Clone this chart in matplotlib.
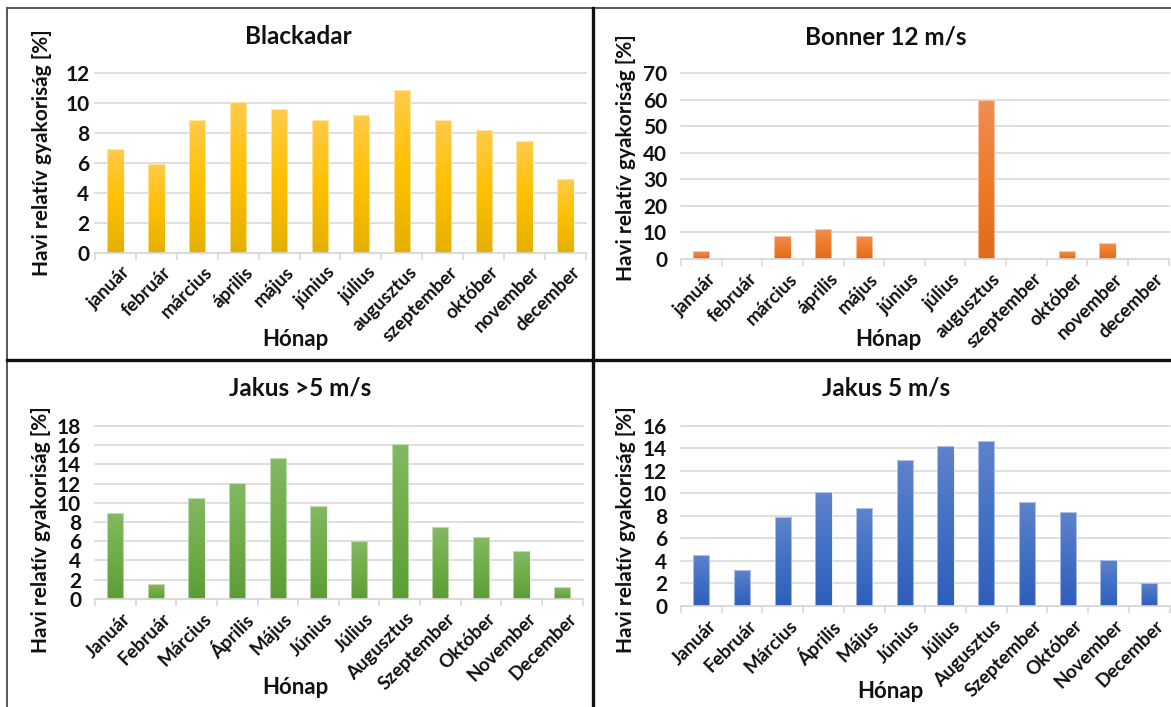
import numpy as np
import matplotlib
matplotlib.use("Agg")
import matplotlib.pyplot as plt
from matplotlib.colors import to_rgb
from matplotlib.transforms import ScaledTranslation
from matplotlib.lines import Line2D

plt.rcParams['font.family'] = ['Lato', 'DejaVu Sans']
plt.rcParams['font.weight'] = 'bold'

# ---- data -------------------------------------------------------------
months_lower = ["január", "február", "március", "április", "május", "június",
                "július", "augusztus", "szeptember", "október", "november", "december"]
months_cap = ["Január", "Február", "Március", "Április", "Május", "Június",
              "Július", "Augusztus", "Szeptember", "Október", "November", "December"]

blackadar = [6.9, 5.95, 8.9, 10.1, 9.6, 8.9, 9.2, 10.9, 8.9, 8.2, 7.45, 4.9]
bonner_12 = [3.0, 0, 8.5, 11.4, 8.5, 0, 0, 60.0, 0, 3.0, 5.9, 0]
jakus_gt5 = [8.9, 1.5, 10.5, 12.05, 14.7, 9.7, 6.0, 16.1, 7.5, 6.45, 5.0, 1.2]
jakus_5 = [4.55, 3.15, 7.9, 10.1, 8.7, 12.95, 14.25, 14.7, 9.25, 8.35, 4.05, 2.05]

titles = ["Blackadar", "Bonner 12 m/s", "Jakus >5 m/s", "Jakus 5 m/s"]
ylims = [(0, 12, 2), (0, 70, 10), (0, 18, 2), (0, 16, 2)]
ylabel = "Havi relatív gyakoriság [%]"
xlabel = "Hónap"

# gradient colours (top, middle, bottom) of each series
gradients = [
    ("#FFCB4A", "#FFC000", "#E3B000"),
    ("#EF8E55", "#EF7B2A", "#E06A1C"),
    ("#84B864", "#6FAD47", "#5C9C36"),
    ("#5F83CC", "#4170C4", "#2E5EBB"),
]

W, H = 1171, 707
fig = plt.figure(figsize=(W / 100, H / 100), dpi=100)
fig.patch.set_facecolor("white")

# plot areas in pixels: left, right, top (max value), bottom (zero line)
boxes = [(95, 586, 73.3, 252.5), (681, 1168.5, 73, 259),
         (95, 582.5, 426, 598.7), (681, 1169.5, 426, 605.7)]
ytick_pad = [4, 10, 10, 10]
title_pos = [(298, 37), (886, 37), (300, 388), (886, 388)]
ylabel_pos = [(42, 153), (626, 158), (41, 530), (626, 530)]
xlabel_pos = [(295, 340), (888, 340), (295, 688), (890, 692)]
series = [blackadar, bonner_12, jakus_gt5, jakus_5]
labels = [months_lower, months_lower, months_cap, months_cap]

GRID = "#D9D9D9"
TXT = "#111111"


def px(x, y):
    return x / W, 1 - y / H


def gradient_img(colors, n=256):
    top, mid, bot = [np.array(to_rgb(c)) for c in colors]
    t = np.linspace(0, 1, n)[:, None]
    upper = top + (mid - top) * np.clip(t * 2, 0, 1)
    lower = mid + (bot - mid) * np.clip(t * 2 - 1, 0, 1)
    img = np.where(t < 0.5, upper, lower)
    return img[:, None, :]


for i in range(4):
    l, r, t, b = boxes[i]
    ax = fig.add_axes([l / W, 1 - b / H, (r - l) / W, (b - t) / H])
    vals = series[i]
    x = np.arange(len(vals))
    y0, y1, step = ylims[i]
    ax.set_xlim(-0.5, len(vals) - 0.5)
    ax.set_ylim(y0, y1)

    bars = ax.bar(x, vals, width=0.4, color=gradients[i][1], zorder=2,
                  edgecolor=(1, 1, 1, 0.55), linewidth=0.8)
    img = gradient_img(gradients[i])
    for rect, v in zip(bars, vals):
        if v <= 0:
            continue
        x0 = rect.get_x()
        im = ax.imshow(img, extent=[x0, x0 + rect.get_width(), 0, v],
                       aspect="auto", zorder=2.5, interpolation="bilinear")
        im.set_clip_path(rect)
        ax.add_patch(plt.Rectangle((x0, 0), rect.get_width(), v, fill=False,
                                   edgecolor=(1, 1, 1, 0.5), linewidth=0.8,
                                   zorder=2.6))

    ax.set_yticks(np.arange(y0, y1 + step / 2, step))
    ax.yaxis.grid(True, color=GRID, linewidth=1.2, zorder=0)
    ax.set_axisbelow(True)
    for gl in ax.yaxis.get_gridlines():
        gl.set_clip_on(False)
    ax.tick_params(axis="y", length=0, pad=ytick_pad[i], labelsize=15,
                   labelcolor=TXT)
    for tl in ax.get_yticklabels():
        tl.set_fontweight("bold")

    for s in ["top", "right", "left"]:
        ax.spines[s].set_visible(False)
    ax.spines["bottom"].set_color(GRID)
    ax.spines["bottom"].set_linewidth(1.2)
    ax.spines["bottom"].set_zorder(3)

    ax.set_xticks(x)
    ax.set_xticklabels(labels[i], rotation=45, ha="right", va="top",
                       rotation_mode="anchor", fontsize=13.5, fontweight="bold",
                       color=TXT)
    ax.tick_params(axis="x", which="major", length=0, pad=8)
    ax.set_xticks(np.arange(-0.5, len(vals), 1.0), minor=True)
    ax.tick_params(axis="x", which="minor", length=5, width=1.2, color=GRID,
                   direction="out")
    off = ScaledTranslation(6 / 100, 0, fig.dpi_scale_trans)
    for tl in ax.get_xticklabels():
        tl.set_transform(tl.get_transform() + off)

    fig.text(*px(*title_pos[i]), titles[i], ha="center", va="center",
             fontsize=17.5, fontweight="bold", color=TXT)
    fig.text(*px(*ylabel_pos[i]), ylabel, ha="center", va="center",
             rotation=90, fontsize=15, fontweight="bold", color=TXT)
    fig.text(*px(*xlabel_pos[i]), xlabel, ha="center", va="center",
             fontsize=16, fontweight="bold", color=TXT)

# panel frame and dividers
frame = [
    ((7, 7), (8, H)), ((7, W), (8, 8)),
]
for xs, ys in frame:
    fig.add_artist(Line2D([v / W for v in xs], [1 - v / H for v in ys],
                          color="#4a4a4a", linewidth=1.3))
for xs, ys in [((593, 593), (8, H)), ((7, W), (359.5, 359.5))]:
    fig.add_artist(Line2D([v / W for v in xs], [1 - v / H for v in ys],
                          color="#111111", linewidth=2.4))

fig.savefig("out.png", dpi=100, facecolor="white")
